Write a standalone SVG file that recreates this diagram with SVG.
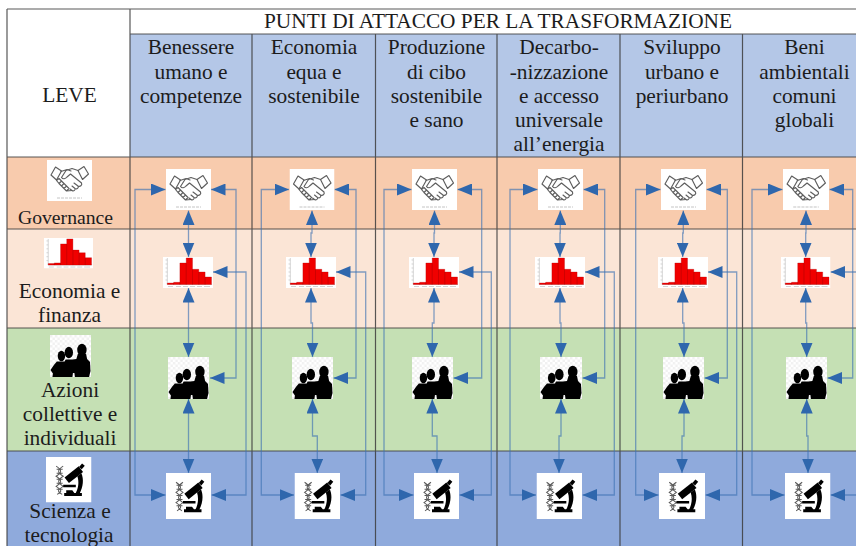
<svg xmlns="http://www.w3.org/2000/svg" width="856" height="546" viewBox="0 0 856 546">
<style>
text{font-family:"Liberation Serif","Times New Roman",serif;font-size:21.4px;fill:#1c1c1c;text-anchor:middle}
.g{stroke:#3c3c3c;stroke-opacity:.85;stroke-width:1.2;fill:none}
.c{fill:none;stroke:#3f73b3;stroke-opacity:.65;stroke-width:1.3;marker-start:url(#ah);marker-end:url(#ah)}
.hs{fill:none;stroke:#5e5e5e;stroke-width:1.15;stroke-linejoin:round;stroke-linecap:round}
</style>
<defs>
<marker id="ah" markerUnits="userSpaceOnUse" markerWidth="14.500" markerHeight="12" viewBox="0 0 14.500 12" refX="14.500" refY="6" orient="auto-start-reverse"><path d="M0 0L14.500 6L0 12Z" fill="#2f67ad"/></marker>
<pattern id="chk" width="5" height="5" patternUnits="userSpaceOnUse"><rect width="5" height="5" fill="#fff"/><rect width="2.500" height="2.500" fill="#f1f1f1"/><rect x="2.500" y="2.500" width="2.500" height="2.500" fill="#f1f1f1"/></pattern>
<symbol id="handshake" viewBox="0 0 45 41" preserveAspectRatio="none">
<rect width="45" height="41" fill="#fff"/>
<path class="hs" d="M4 15L8.500 7L14.500 11L9.500 20ZM41.500 14L37 6.500L31 10.500L35.500 19.500Z"/>
<path class="hs" d="M14 11.500L20 9.500L24 11M31 10.500L25 8.500L19 10.500L14.500 17.500C16 19.500 18.500 19 20 17L23.500 14L34.500 23C35.500 25.500 33 27 31 26L27 23M31 26C32 28 30 29.500 28 28.500L25 26M28 28.500C28.500 30.500 26.500 31.500 25 30.500L23 29"/>
<path class="hs" d="M9.500 20.500L12 18.500L14.500 21L12 23.500ZM12 23.500L14.500 21L17 23.500L14.500 26ZM14.500 26L17 23.500L19.500 26L17 28.500ZM17 28.500L19.500 26L22 28.500L19.500 31ZM19.500 31L25 30.500"/>
<path d="M10 38H35" stroke="#c4c4c4" stroke-width="1" stroke-dasharray="3 1"/>
</symbol>
<symbol id="histogram" viewBox="0 0 50 31" preserveAspectRatio="none">
<rect width="50" height="31" fill="#fff"/>
<path d="M4.300 1V27.400H49" fill="none" stroke="#a8a8a8" stroke-width=".5"/>
<path d="M2.500 3H4.300M2.500 7H4.300M2.500 11H4.300M2.500 15H4.300M2.500 19H4.300M2.500 23H4.300" stroke="#bbb" stroke-width=".6"/>
<path d="M5 29.500H10M13 29.500H18M20 29.500H25M27 29.500H32M34 29.500H39M41 29.500H47" stroke="#c8c8c8" stroke-width=".8"/>
<path d="M4.300 26H10.600V27.500H4.300ZM10.600 25.300H16.900V27.500H10.600ZM16.900 6H23.200V27.500H16.900ZM23.200 1H29.500V27.500H23.200ZM29.500 12.300H35.800V27.500H29.500ZM35.800 15H42.100V27.500H35.800ZM42.100 20H48.500V27.500H42.100Z" fill="#f00000" stroke="#b00000" stroke-width=".3"/>
</symbol>
<symbol id="people" viewBox="0 0 42 42" preserveAspectRatio="none">
<rect width="42" height="42" fill="url(#chk)"/>
<g fill="#000"><ellipse cx="32.700" cy="15" rx="4.800" ry="6.200"/><ellipse cx="19.300" cy="17.500" rx="4.300" ry="5.800"/><ellipse cx="11.700" cy="21" rx="3.800" ry="5.200"/>
<path d="M.5 35L4 30L7 26.500H15L16 24.500H23L27 24L28.500 19H37L38 24L41 27L41.500 36L40 42H25.500L25 38H23.500L23 42H2.500L3 38.500Z"/></g>
</symbol>
<symbol id="microscope" viewBox="0 0 45 45" preserveAspectRatio="none">
<rect width="45" height="45" fill="#fff"/>
<path d="M10 9C16 13 16 15 10 19C16 23 16 25 10 29C16 33 16 34 11 37M17 9C11 13 11 15 17 19C11 23 11 25 17 29C11 33 11 34 16 37M10.500 12H16.500M10.500 16H16.500M10.500 22H16.500M10.500 26H16.500M10.500 32H16.500" fill="none" stroke="#5a5a5a" stroke-width="1"/>
<path d="M20.500 23L34.500 12" stroke="#000" stroke-width="7"/>
<path d="M34 11L37 7.500" stroke="#000" stroke-width="3.500"/>
<path d="M17 27.500H29.500V29.800H17ZM18 35.500H35.500V38.500H18ZM20 33L26 33L28 35.500H20Z" fill="#000"/>
<path d="M35 16C37.500 22 37 29 33 36.500H29C32 31 33 25 31 19Z" fill="#000"/>
</symbol>
</defs>
<rect width="856" height="546" fill="#fff"/>
<g id="grid">
<rect x="130" y="34" width="726" height="123" fill="#b4c7e7"/>
<rect x="7" y="157" width="849" height="72" fill="#f8cbad"/>
<rect x="7" y="229" width="849" height="99" fill="#fbe5d6"/>
<rect x="7" y="328" width="849" height="123" fill="#c5e0b4"/>
<rect x="7" y="451" width="849" height="95" fill="#8faadc"/>
<path class="g" d="M7 9H856M130 34H856M7 157H856M7 229H856M7 328H856M7 451H856M7 9V546M130 9V546M252 34V546M375.500 34V546M497 34V546M620 34V546M742.500 34V546"/>
</g>
<g id="header-text">
<text id="title" x="498" y="28" textLength="468" lengthAdjust="spacingAndGlyphs">PUNTI DI ATTACCO PER LA TRASFORMAZIONE</text>
<text id="leve" x="69.500" y="101.500">LEVE</text>
<text x="191" y="54">Benessere</text><text x="191" y="78.500">umano e</text><text x="191" y="103">competenze</text>
<text x="314" y="54">Economia</text><text x="314" y="78.500">equa e</text><text x="314" y="103">sostenibile</text>
<text x="436.500" y="54">Produzione</text><text x="436.500" y="78.500">di cibo</text><text x="436.500" y="103">sostenibile</text><text x="436.500" y="127">e sano</text>
<text x="559" y="54">Decarbo-</text><text x="559" y="78.500">-nizzazione</text><text x="559" y="103">e accesso</text><text x="559" y="127">universale</text><text x="559" y="151">all’energia</text>
<text x="682" y="54">Sviluppo</text><text x="682" y="78.500">urbano e</text><text x="682" y="103">periurbano</text>
<text x="804.500" y="54">Beni</text><text x="804.500" y="78.500">ambientali</text><text x="804.500" y="103">comuni</text><text x="804.500" y="127">globali</text>
</g>
<g id="row-labels">
<g id="lever-governance"><use href="#handshake" x="47" y="160" width="45" height="41"/><text x="65.500" y="224" style="font-size:19.700px">Governance</text></g>
<g id="lever-economia"><use href="#histogram" x="44" y="238" width="49" height="30.500"/><text x="69.500" y="298">Economia e</text><text x="69.500" y="322">finanza</text></g>
<g id="lever-azioni"><use href="#people" x="50" y="335" width="41" height="42"/><text x="70" y="397">Azioni</text><text x="70" y="421">collettive e</text><text x="70" y="445">individuali</text></g>
<g id="lever-scienza"><use href="#microscope" x="46" y="457" width="45.500" height="45.500"/><text x="70" y="517.500">Scienza e</text><text x="69" y="541.500">tecnologia</text></g>
</g>
<g id="connectors">
<path class="c" d="M165.500 189.500H135V495H165.500"/><path class="c" d="M211 189.500H236V378H210"/><path class="c" d="M213 272H246V495H211.500"/><path class="c" d="M188.500 210.500V257"/><path class="c" d="M188.500 288V357"/><path class="c" d="M188.500 399V473"/>
<path class="c" d="M289 189.500H261.300V495H294"/><path class="c" d="M334.500 189.500H356V378H333.500"/><path class="c" d="M336 272H365.700V495H340.500"/><path class="c" d="M312 210.500V233H311V257"/><path class="c" d="M311 288V323H312.500V357"/><path class="c" d="M312.500 399V436H317.300V473"/>
<path class="c" d="M411.500 189.500H384V495H413.500"/><path class="c" d="M457.500 189.500H481.700V378H453.500"/><path class="c" d="M459 272H491.300V495H459.500"/><path class="c" d="M434.500 210.500V233H434V257"/><path class="c" d="M434 288V323H432.300V357"/><path class="c" d="M432.300 399V436H437V473"/>
<path class="c" d="M537.500 189.500H510V495H536"/><path class="c" d="M583.500 189.500H604.700V378H582.500"/><path class="c" d="M585 272H614.300V495H582.500"/><path class="c" d="M560.300 210.500V233H560V257"/><path class="c" d="M560 288V323H561V357"/><path class="c" d="M561 399V436H559V473"/>
<path class="c" d="M660.500 189.500H635.700V495H658.500"/><path class="c" d="M706.500 189.500H727.300V378H704.500"/><path class="c" d="M708 272H736.700V495H705.500"/><path class="c" d="M683.300 210.500V233H682.700V257"/><path class="c" d="M682.700 288V323H684V357"/><path class="c" d="M684 399V436H682V473"/>
<path class="c" d="M782.500 189.500H752V495H784.500"/><path class="c" d="M829.500 189.500H852.700V378H827.500"/><path class="c" d="M830.500 272H866V495H830.500"/><path class="c" d="M806 210.500V233H805.700V257"/><path class="c" d="M805.700 288V323H806.700V357"/><path class="c" d="M806.700 399V436H808V473"/>
</g>
<g id="col1"><g id="c1-governance"><use href="#handshake" x="166" y="169" width="45" height="41"/></g><g id="c1-economia"><use href="#histogram" x="163" y="257" width="50" height="31"/></g><g id="c1-azioni"><use href="#people" x="168" y="357" width="41" height="42"/></g><g id="c1-scienza"><use href="#microscope" x="166" y="473" width="45" height="46"/></g></g>
<g id="col2"><g id="c2-governance"><use href="#handshake" x="289.500" y="169" width="45" height="41"/></g><g id="c2-economia"><use href="#histogram" x="286" y="257" width="50" height="31"/></g><g id="c2-azioni"><use href="#people" x="292" y="357" width="41" height="42"/></g><g id="c2-scienza"><use href="#microscope" x="294.500" y="473" width="45.500" height="46"/></g></g>
<g id="col3"><g id="c3-governance"><use href="#handshake" x="412" y="169" width="45" height="41"/></g><g id="c3-economia"><use href="#histogram" x="409" y="257" width="50" height="31"/></g><g id="c3-azioni"><use href="#people" x="412" y="357" width="41" height="42"/></g><g id="c3-scienza"><use href="#microscope" x="414" y="473" width="45" height="46"/></g></g>
<g id="col4"><g id="c4-governance"><use href="#handshake" x="538" y="169" width="45" height="41"/></g><g id="c4-economia"><use href="#histogram" x="535" y="257" width="50" height="31"/></g><g id="c4-azioni"><use href="#people" x="540" y="357" width="42" height="42"/></g><g id="c4-scienza"><use href="#microscope" x="536.500" y="473" width="45.500" height="46"/></g></g>
<g id="col5"><g id="c5-governance"><use href="#handshake" x="661" y="169" width="45" height="41"/></g><g id="c5-economia"><use href="#histogram" x="658" y="257" width="50" height="31"/></g><g id="c5-azioni"><use href="#people" x="663" y="357" width="41" height="42"/></g><g id="c5-scienza"><use href="#microscope" x="659" y="473" width="46" height="46"/></g></g>
<g id="col6"><g id="c6-governance"><use href="#handshake" x="783" y="169" width="46" height="41"/></g><g id="c6-economia"><use href="#histogram" x="781" y="257" width="49.500" height="31"/></g><g id="c6-azioni"><use href="#people" x="786" y="357" width="41" height="42"/></g><g id="c6-scienza"><use href="#microscope" x="785" y="473" width="45.500" height="46"/></g></g>
</svg>
